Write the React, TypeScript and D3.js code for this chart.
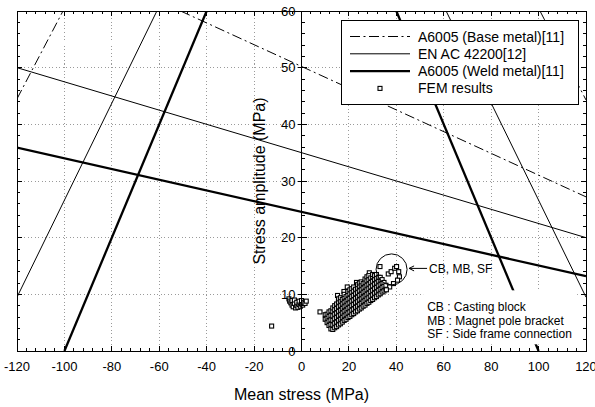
import React from 'react'
import * as d3 from 'd3'

const W = 595
const H = 407
const plot = { left: 17, right: 586, top: 11, bottom: 351 }

const xTickValues = [-120, -100, -80, -60, -40, -20, 0, 20, 40, 60, 80, 100, 120]
const yTickValues = [0, 10, 20, 30, 40, 50, 60]

// Haigh diagram limit lines, [mean stress, stress amplitude] end points
const baseMetalLines = [
  [[-120, 44.5], [-100.6, 60]],
  [[-51, 60], [120, 27.2]],
  [[100.6, 60], [120, 44.3]]
]
const enAcLines = [
  [[-120, 9.5], [-61, 60]],
  [[-120, 50], [120, 20]],
  [[61, 60], [120, 9.5]]
]
const weldLines = [
  [[-100, 0], [-40, 60]],
  [[-120, 35.9], [120, 13.2]],
  [[40, 60], [100, 0]]
]

// FEM results
const femNearZero = [
  [-5.3, 9.2], [-5, 8.8], [-4.5, 8.5], [-4, 8.1], [-4, 8.9], [-3.5, 7.8], [-3, 8.4],
  [-3, 9.0], [-2.5, 7.6], [-2, 8.0], [-2, 8.6], [-1.5, 7.7], [-1, 8.2], [-1, 8.8],
  [-0.5, 7.9], [0, 8.3], [0, 8.9], [0.5, 8.1], [1, 8.6], [1.5, 8.4], [2, 8.8]
]
const femOutliers = [
  [-12.6, 4.4], [7.8, 6.9], [17.9, 10.5], [19.3, 11.3], [15.2, 9.8], [23.2, 12.1], [28.6, 13.8]
]
const femBand = [
  [10, [5.6, 6.4]],
  [10.8, [5.0, 5.8, 6.5]],
  [11.6, [4.5, 5.3, 6.1, 6.9]],
  [12.4, [3.9, 4.7, 5.5, 6.3, 7.1]],
  [13.2, [3.8, 4.6, 5.4, 6.2, 7.0, 7.6]],
  [14, [4.1, 4.9, 5.7, 6.5, 7.3, 8.0]],
  [14.8, [4.3, 5.1, 5.9, 6.7, 7.5, 8.3]],
  [15.6, [4.6, 5.4, 6.2, 7.0, 7.8, 8.6, 9.2]],
  [16.4, [4.8, 5.6, 6.4, 7.2, 8.0, 8.8, 9.4]],
  [17.2, [5.1, 5.9, 6.7, 7.5, 8.3, 9.1]],
  [18, [5.4, 6.2, 7.0, 7.8, 8.6, 9.4, 10.0]],
  [18.8, [5.6, 6.4, 7.2, 8.0, 8.8, 9.6]],
  [19.6, [5.9, 6.7, 7.5, 8.3, 9.1, 9.9, 10.5]],
  [20.4, [6.1, 6.9, 7.7, 8.5, 9.3, 10.1, 10.8]],
  [21.2, [6.4, 7.2, 8.0, 8.8, 9.6, 10.4, 11.0]],
  [22, [6.6, 7.4, 8.2, 9.0, 9.8, 10.6, 11.3]],
  [22.8, [6.9, 7.7, 8.5, 9.3, 10.1, 10.9]],
  [23.6, [7.1, 7.9, 8.7, 9.5, 10.3, 11.1, 11.7]],
  [24.4, [7.4, 8.2, 9.0, 9.8, 10.6, 11.4, 12.0]],
  [25.2, [7.6, 8.4, 9.2, 10.0, 10.8, 11.6, 12.2]],
  [26, [7.9, 8.7, 9.5, 10.3, 11.1, 11.9]],
  [26.8, [8.1, 8.9, 9.7, 10.5, 11.3, 12.1, 12.7]],
  [27.6, [8.4, 9.2, 10.0, 10.8, 11.6, 12.4, 13.1]],
  [28.4, [8.6, 9.4, 10.2, 11.0, 11.8, 12.6, 13.3]],
  [29.2, [8.9, 9.7, 10.5, 11.3, 12.1, 12.9]],
  [30, [9.1, 9.9, 10.7, 11.5, 12.3, 13.1, 13.5]],
  [30.8, [9.4, 10.2, 11.0, 11.8, 12.6, 13.3]],
  [31.6, [9.6, 10.4, 11.2, 12.0, 12.8, 13.5]],
  [32.4, [9.9, 10.7, 11.5, 12.3, 13.0]],
  [33.2, [10.1, 10.9, 11.7, 12.5, 13.0]],
  [34, [10.4, 11.2, 12.0, 12.6]],
  [34.8, [10.6, 11.4, 12.1]],
  [35.6, [10.9, 11.6]]
]
const femCircled = [
  [33.1, 14.9], [36.6, 13.6], [37.8, 14.0], [39.3, 14.6], [40.1, 14.9], [41.0, 14.0],
  [41.3, 13.1], [40.5, 12.5], [38.8, 11.9], [37.2, 11.3], [35.8, 10.8]
]
const circleCenter = [38, 14.4]

const legendItems = [
  { label: 'A6005 (Base metal)[11]', kind: 'base' },
  { label: 'EN AC 42200[12]', kind: 'enac' },
  { label: 'A6005 (Weld metal)[11]', kind: 'weld' },
  { label: 'FEM results', kind: 'fem' }
]
const notes = ['CB : Casting block', 'MB : Magnet pole bracket', 'SF : Side frame connection']

const font = '"Liberation Sans", Arial, sans-serif'
const lineStyles = {
  base: { strokeWidth: 1, dash: '10,3.5,2,3.5' },
  enac: { strokeWidth: 1, dash: null },
  weld: { strokeWidth: 2.3, dash: null }
}
const SQ = 4

export default function App() {
  const x = d3.scaleLinear().domain([-120, 120]).range([plot.left, plot.right])
  const y = d3.scaleLinear().domain([0, 60]).range([plot.bottom, plot.top])
  const line = d3.line().x(d => x(d[0])).y(d => y(d[1]))

  const femPoints = [
    ...femNearZero,
    ...femOutliers,
    ...femBand.flatMap(([m, amps]) => amps.map(a => [m, a])),
    ...femCircled
  ]

  const x0 = x(0)
  const minorX = d3.range(-120, 121, 4)
  const minorY = d3.range(0, 61, 2)
  const gridX = xTickValues.filter(v => v !== -120 && v !== 0 && v !== 120)
  const gridY = yTickValues.filter(v => v !== 0 && v !== 60)

  const drawSeries = (segs, kind) =>
    segs.map((s, i) => (
      <path
        key={kind + i}
        d={line(s)}
        fill="none"
        stroke="#000"
        strokeWidth={lineStyles[kind].strokeWidth}
        strokeDasharray={lineStyles[kind].dash || undefined}
      />
    ))

  const cx = x(circleCenter[0])
  const cy = y(circleCenter[1])
  const r = 15.5
  const tipX = cx + r + 2
  const tailX = tipX + 18

  const notesX = x(53)
  const notesY = y(7)
  const legend = { x: 341, y: 20, w: 237, h: 84 }

  return (
    <svg width={W} height={H} style={{ position: 'absolute', left: 0, top: 0, background: '#fff' }} fontFamily={font}>
      <defs>
        <clipPath id="plotClip">
          <rect x={plot.left} y={plot.top} width={plot.right - plot.left} height={plot.bottom - plot.top} />
        </clipPath>
      </defs>
      <rect width={W} height={H} fill="#fff" />

      {/* grid */}
      <g stroke="#9a9a9a" strokeWidth={1} strokeDasharray="1,2.5" shapeRendering="crispEdges">
        {gridX.map(v => (
          <line key={'gx' + v} x1={x(v)} x2={x(v)} y1={plot.top} y2={plot.bottom} />
        ))}
        {gridY.map(v => (
          <line key={'gy' + v} x1={plot.left} x2={plot.right} y1={y(v)} y2={y(v)} />
        ))}
      </g>

      <g clipPath="url(#plotClip)">
        {drawSeries(baseMetalLines, 'base')}
        {drawSeries(enAcLines, 'enac')}
        {drawSeries(weldLines, 'weld')}
      </g>

      {/* notes box */}
      <rect x={notesX - 4} y={notesY - 21} width={154} height={54} fill="#fff" />
      {notes.map((t, i) => (
        <text key={t} x={notesX} y={notesY + i * 13.5} fontSize={12} fill="#000">
          {t}
        </text>
      ))}

      {/* FEM points */}
      <g fill="#fff" stroke="#000" strokeWidth={1.1}>
        {femPoints.map((p, i) => (
          <rect key={i} x={x(p[0]) - SQ / 2} y={y(p[1]) - SQ / 2} width={SQ} height={SQ} />
        ))}
      </g>

      {/* circled group and arrow */}
      <circle cx={cx} cy={cy} r={r} fill="none" stroke="#000" strokeWidth={1} />
      <g stroke="#000" strokeWidth={1} fill="none">
        <line x1={tailX} x2={tipX} y1={cy - 1} y2={cy - 1} />
        <path d={`M${tipX + 5},${cy - 3.5} L${tipX},${cy - 1} L${tipX + 5},${cy + 1.5}`} />
      </g>
      <text x={tailX + 2} y={cy - 1} dy="0.35em" fontSize={12} fill="#000">
        CB, MB, SF
      </text>

      {/* legend */}
      <rect x={legend.x} y={legend.y} width={legend.w} height={legend.h} fill="#fff" stroke="#000" strokeWidth={1} shapeRendering="crispEdges" />
      {legendItems.map((it, i) => {
        const ly = legend.y + 16.5 + i * 17.3
        return (
          <g key={it.label}>
            {it.kind === 'fem' ? (
              <rect x={380 - SQ / 2} y={ly - SQ / 2} width={SQ} height={SQ} fill="#fff" stroke="#000" strokeWidth={1.1} />
            ) : (
              <line
                x1={350}
                x2={410}
                y1={ly}
                y2={ly}
                stroke="#000"
                strokeWidth={lineStyles[it.kind].strokeWidth}
                strokeDasharray={lineStyles[it.kind].dash || undefined}
              />
            )}
            <text x={418} y={ly} dy="0.36em" fontSize={14} fill="#000">
              {it.label}
            </text>
          </g>
        )
      })}

      {/* frame and ticks */}
      <g stroke="#000" strokeWidth={1} shapeRendering="crispEdges" fill="none">
        <rect x={plot.left} y={plot.top} width={plot.right - plot.left} height={plot.bottom - plot.top} />
        {minorX.map(v => {
          const len = v % 20 === 0 ? 5 : 3
          return (
            <g key={'tx' + v}>
              <line x1={x(v)} x2={x(v)} y1={plot.bottom} y2={plot.bottom - len} />
              <line x1={x(v)} x2={x(v)} y1={plot.top} y2={plot.top + len} />
            </g>
          )
        })}
        {minorY.map(v => {
          const len = v % 10 === 0 ? 5 : 3
          return (
            <g key={'ty' + v}>
              <line x1={plot.left} x2={plot.left + len} y1={y(v)} y2={y(v)} />
              <line x1={plot.right} x2={plot.right - len} y1={y(v)} y2={y(v)} />
              <line x1={v % 10 === 0 ? x0 - 4 : x0} x2={x0 + len} y1={y(v)} y2={y(v)} />
            </g>
          )
        })}
        <line x1={x0} x2={x0} y1={plot.top} y2={plot.bottom} />
      </g>

      {/* tick labels */}
      {xTickValues.map(v => (
        <text key={'lx' + v} x={x(v)} y={plot.bottom + 20} textAnchor="middle" fontSize={13} fill="#000">
          {v}
        </text>
      ))}
      {yTickValues.map(v => (
        <text key={'ly' + v} x={x0 - 6} y={y(v)} dy="0.36em" textAnchor="end" fontSize={13} fill="#000">
          {v}
        </text>
      ))}

      {/* axis titles */}
      <text x={x0} y={400} textAnchor="middle" fontSize={16} fill="#000">
        Mean stress (MPa)
      </text>
      <text
        transform={`translate(265,${(plot.top + plot.bottom) / 2}) rotate(-90)`}
        textAnchor="middle"
        fontSize={16}
        fill="#000"
      >
        Stress amplitude (MPa)
      </text>
    </svg>
  )
}
